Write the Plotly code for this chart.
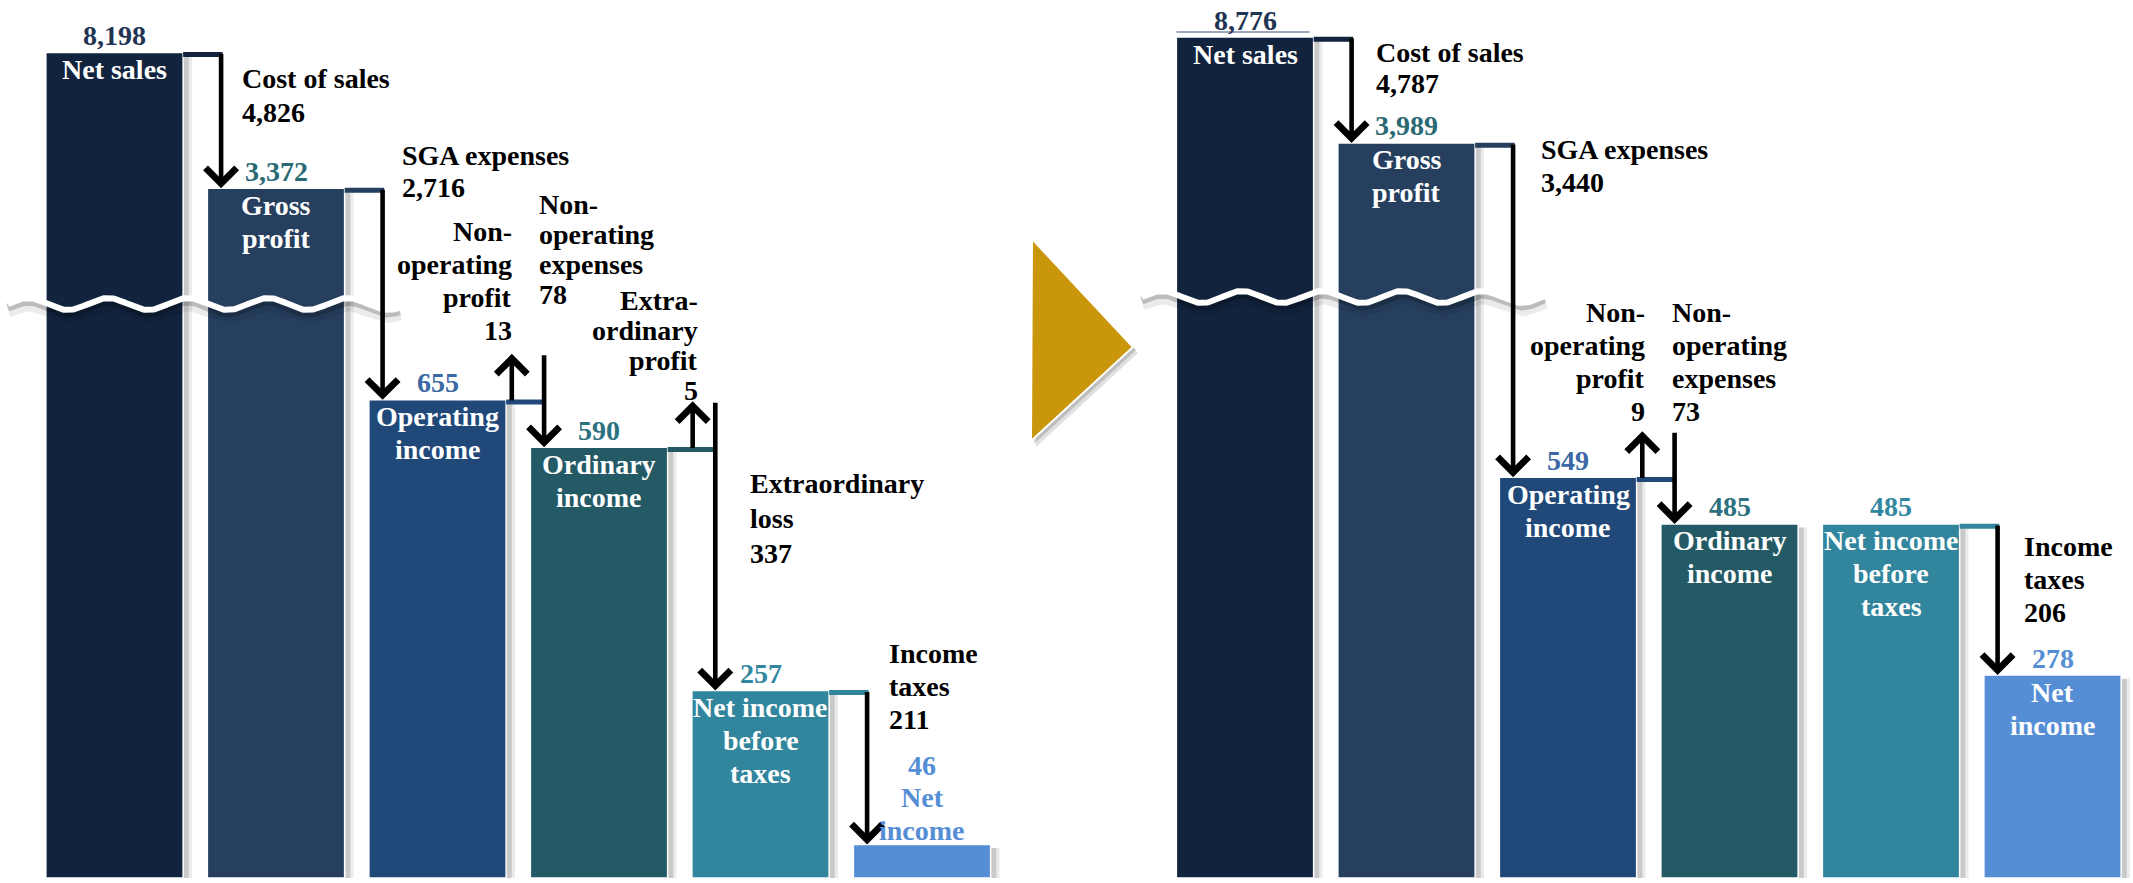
import numpy as np
import plotly.graph_objects as go

# ---------------- data ----------------
bar_names = ["Net sales", "Gross profit", "Operating income", "Ordinary income",
             "Net income before taxes", "Net income"]
left_values = [8198, 3372, 655, 590, 257, 46]
right_values = [8776, 3989, 549, 485, 485, 278]

left_step_names = ["Cost of sales", "SGA expenses", "Non-operating profit",
                   "Non-operating expenses", "Extraordinary profit",
                   "Extraordinary loss", "Income taxes"]
left_step_values = [4826, 2716, 13, 78, 5, 337, 211]
left_step_signs = [-1, -1, 1, -1, 1, -1, -1]
left_step_from = [0, 1, 2, 2, 3, 3, 4]      # index of the bar the step starts from

right_step_names = ["Cost of sales", "SGA expenses", "Non-operating profit",
                    "Non-operating expenses", "Income taxes"]
right_step_values = [4787, 3440, 9, 73, 206]
right_step_signs = [-1, -1, 1, -1, -1]
right_step_from = [0, 1, 2, 2, 4]

left_x = [0, 1, 2, 3, 4, 5]
right_x = [7, 8, 9, 10, 11, 12]

# ---------------- text wrapping ----------------
BAR_LINES = {
    "Net sales": ["Net sales"],
    "Gross profit": ["Gross", "profit"],
    "Operating income": ["Operating", "income"],
    "Ordinary income": ["Ordinary", "income"],
    "Net income before taxes": ["Net income", "before", "taxes"],
    "Net income": ["Net", "income"],
}
STEP_LINES = {
    "Cost of sales": ["Cost of sales"],
    "SGA expenses": ["SGA expenses"],
    "Non-operating profit": ["Non-", "operating", "profit"],
    "Non-operating expenses": ["Non-", "operating", "expenses"],
    "Extraordinary profit": ["Extra-", "ordinary", "profit"],
    "Extraordinary loss": ["Extraordinary", "loss"],
    "Income taxes": ["Income", "taxes"],
}

# ---------------- style ----------------
W, H = 2133, 883
PX_PER_X = 161.5          # pixels per category step
X0_PX = 114.5             # pixel of x = 0
PX_PER_Y = 0.73           # pixels per value unit (below the break)
Y0_PX = 878               # pixel of y = 0
BAR_W = 0.85
HALF_W = BAR_W / 2
DOWN_DX_DEFAULT = 0.34
DOWN_DX = {"Extraordinary loss": 0.28}
UP_DX = {"Non-operating profit": 0.46, "Extraordinary profit": 0.58}
STUB = 46 / PX_PER_Y      # visual length of the small "up" arrows
FONT = "Liberation Serif"
FS = 28

BAR_COLORS = ["#12233D", "#263F5F", "#204879", "#235A66", "#31859C", "#558ED5"]
VALUE_COLORS = ["#1F3553", "#2A6A74", "#3A69A6", "#2C7180", "#3287A0", "#558ED5"]

# broken axis: values above the break are compressed (base + k * value)
BREAKS = {"left": (815.0, 0.03854), "right": (886.0, 0.0303)}
BREAK_LIMIT = 1000

# label offsets (px): dx from arrow, dy of first line below start level, anchor, line spacing
LEFT_LABEL_STYLE = [(19, 26, "left", 34), (17, -33, "left", 32), (2, -168, "right", 33),
                    (-7, -195, "left", 30), (7, -147, "right", 30), (33, 36, "left", 35),
                    (20, -37, "left", 33)]
RIGHT_LABEL_STYLE = [(22, 15, "left", 31), (26, 7, "left", 33), (5, -165, "right", 33),
                     (-5, -165, "left", 33), (24, 23, "left", 33)]


def disp(v, brk):
    if v <= BREAK_LIMIT:
        return v
    base, k = BREAKS[brk]
    return base + k * v


fig = go.Figure()


def add_text(x, y, s, color, xanchor="center", xshift=0, yshift=0, size=FS):
    fig.add_annotation(x=x, y=y, xref="x", yref="y", text=f"<b>{s}</b>", showarrow=False,
                       xanchor=xanchor, yanchor="middle", xshift=xshift, yshift=yshift,
                       font=dict(family=FONT, size=size, color=color))


def add_arrow(x, y0, y1):
    fig.add_annotation(x=x, y=y1, ax=x, ay=y0, xref="x", yref="y", axref="x", ayref="y",
                       text="", showarrow=True, arrowhead=4, arrowsize=1.3, arrowwidth=4.6,
                       arrowcolor="black", standoff=0, startstandoff=0)


def wave(px_start, px_end, py_center, amp_px=6, period_px=80):
    px = np.linspace(px_start, px_end, 400)
    xd = (px - X0_PX) / PX_PER_X
    yc = (Y0_PX - py_center) / PX_PER_Y
    yd = yc + (amp_px / PX_PER_Y) * np.sin(2 * np.pi * (px - px_start) / period_px)
    for dy, col, w in [(6, "rgba(0,0,0,0.08)", 14), (4, "rgba(0,0,0,0.20)", 7)]:
        fig.add_trace(go.Scatter(x=xd, y=yd - dy / PX_PER_Y, mode="lines",
                                 line=dict(color=col, width=w), hoverinfo="skip"))
    fig.add_trace(go.Scatter(x=xd, y=yd, mode="lines", line=dict(color="white", width=6),
                             hoverinfo="skip"))


def build_panel(xs, values, brk):
    dv = [disp(v, brk) for v in values]
    # shadows
    for off, col in [(0.055, "rgba(0,0,0,0.08)"), (0.035, "rgba(0,0,0,0.14)")]:
        fig.add_trace(go.Bar(x=xs, y=[d - 5 for d in dv], width=BAR_W, offset=-HALF_W + off,
                             marker=dict(color=col, line=dict(width=0)), hoverinfo="skip"))
    # bars
    fig.add_trace(go.Bar(x=xs, y=dv, width=BAR_W, customdata=values,
                         marker=dict(color=BAR_COLORS, line=dict(color="white", width=1.5)),
                         hovertemplate="%{customdata:,}<extra></extra>"))
    return dv


def decorate_panel(xs, values, dv, step_names, step_values, step_signs, step_from, styles,
                   underline_first=False):
    # connectors & arrows
    for i in range(len(values) - 1):
        idx = [k for k in range(len(step_names)) if step_from[k] == i]
        if not idx:
            continue
        y_from, y_to = dv[i], dv[i + 1]
        down_names = [step_names[k] for k in idx if step_signs[k] < 0]
        ddx = DOWN_DX.get(down_names[0], DOWN_DX_DEFAULT) if down_names else DOWN_DX_DEFAULT
        x_down = xs[i + 1] - ddx
        fig.add_trace(go.Scatter(x=[xs[i] + HALF_W, x_down + 0.01], y=[y_from - 3, y_from - 3],
                                 mode="lines", line=dict(color=BAR_COLORS[i], width=5),
                                 hoverinfo="skip"))
        level = y_from
        for k in idx:
            if step_signs[k] > 0:
                xa = xs[i] + UP_DX[step_names[k]]
                add_arrow(xa, y_from - 3, y_from + STUB)
                level = y_from + STUB
            else:
                xa = x_down
                add_arrow(xa, level, y_to)
            dx, dy, anchor, sp = styles[k]
            lines = STEP_LINES[step_names[k]] + [f"{step_values[k]:,}"]
            for j, ln in enumerate(lines):
                add_text(xa, y_from, ln, "black", xanchor=anchor, xshift=dx,
                         yshift=-(dy + j * sp))
    # bar labels
    for i, (x, v, d) in enumerate(zip(xs, values, dv)):
        name_lines = BAR_LINES[bar_names[i]]
        if d * PX_PER_Y < 60:
            lines = [f"{v:,}"] + name_lines
            n = len(lines)
            for j, ln in enumerate(lines):
                add_text(x, d, ln, VALUE_COLORS[i], yshift=14 + (n - 1 - j) * 32.5)
        else:
            add_text(x, d, f"{v:,}", VALUE_COLORS[i], yshift=17)
            for j, ln in enumerate(name_lines):
                add_text(x, d, ln, "white", yshift=-(17 + j * 33))
    if underline_first:
        fig.add_trace(go.Scatter(x=[xs[0] - HALF_W, xs[0] + 0.4], y=[dv[0] + 7, dv[0] + 7],
                                 mode="lines", line=dict(color="#7C8BA3", width=1.5),
                                 hoverinfo="skip"))


dl = build_panel(left_x, left_values, "left")
dr = build_panel(right_x, right_values, "right")

# axis-break waves (drawn over the bars)
wave(8, 400, 304)
wave(1142, 1545, 297)

decorate_panel(left_x, left_values, dl, left_step_names, left_step_values, left_step_signs,
               left_step_from, LEFT_LABEL_STYLE)
decorate_panel(right_x, right_values, dr, right_step_names, right_step_values,
               right_step_signs, right_step_from, RIGHT_LABEL_STYLE, underline_first=True)


# gold transition triangle
def tri_path(pts, ox=0, oy=0):
    xs_ = [(x + ox) / W for x, _ in pts]
    ys_ = [1 - (y + oy) / H for _, y in pts]
    return "M{} {} L{} {} L{} {} Z".format(xs_[0], ys_[0], xs_[1], ys_[1], xs_[2], ys_[2])


TRI = [(1032, 239), (1031, 441), (1133, 347)]
fig.add_shape(type="path", xref="paper", yref="paper", path=tri_path(TRI, 5, 6),
              fillcolor="rgba(0,0,0,0.12)", line=dict(width=0), layer="below")
fig.add_shape(type="path", xref="paper", yref="paper", path=tri_path(TRI, 3, 3),
              fillcolor="rgba(0,0,0,0.15)", line=dict(width=0), layer="below")
fig.add_shape(type="path", xref="paper", yref="paper", path=tri_path(TRI),
              fillcolor="#C9960C", line=dict(color="white", width=2), layer="above")

fig.update_layout(
    width=W, height=H, margin=dict(l=0, r=0, t=0, b=0),
    plot_bgcolor="white", paper_bgcolor="white", showlegend=False, barmode="overlay",
    xaxis=dict(visible=False, range=[-X0_PX / PX_PER_X, (W - X0_PX) / PX_PER_X], fixedrange=True),
    yaxis=dict(visible=False, range=[(Y0_PX - H) / PX_PER_Y, Y0_PX / PX_PER_Y], fixedrange=True),
)

fig.write_html("out.html", config={"displayModeBar": False},
               post_script="document.body.style.margin='0';")
